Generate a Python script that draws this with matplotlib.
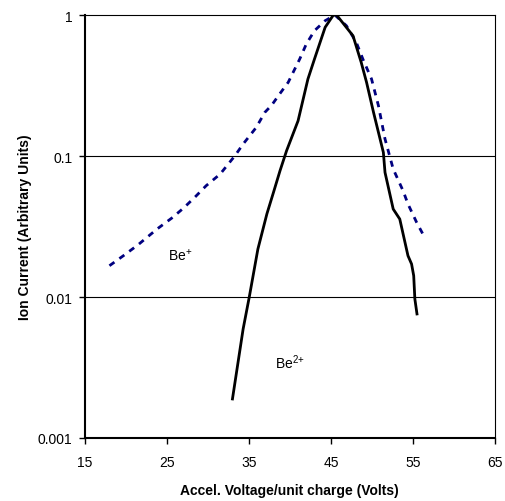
import numpy as np
import matplotlib
matplotlib.use("Agg")
import matplotlib.pyplot as plt
from matplotlib.ticker import FixedLocator, NullLocator

plt.rcParams.update({
    "font.family": ["Liberation Sans", "DejaVu Sans"],
    "font.size": 10,
    "mathtext.fontset": "custom",
    "mathtext.rm": "Liberation Sans",
})

# --- data ---
be1_x = [18.0, 19.7, 21.5, 23.8, 25.6, 27.0, 28.4, 29.8, 31.5, 33.3, 34.3, 35.9, 36.95,
         37.8, 38.6, 39.8, 41.2, 42.0, 43.0, 44.3, 45.5, 46.9, 48.1, 48.9, 49.96, 50.8,
         51.6, 52.6, 53.8, 54.4, 55.45, 56.5]
be1_log = [-1.778, -1.707, -1.629, -1.518, -1.44, -1.371, -1.293, -1.21, -1.128, -0.998,
           -0.915, -0.797, -0.69, -0.638, -0.572, -0.477, -0.312, -0.206, -0.111, -0.04,
           0.0, -0.076, -0.194, -0.312, -0.454, -0.643, -0.879, -1.092, -1.246, -1.34,
           -1.47, -1.584]

be2_x = [33.0, 34.3, 35.05, 36.1, 37.2, 38.0, 38.8, 39.6, 41.0, 42.2, 43.0, 44.3, 45.3,
         45.7, 47.7, 48.7, 49.35, 50.2, 51.4, 51.6, 52.6, 53.4, 54.4, 54.84, 55.1, 55.24,
         55.5]
be2_log = [-2.723, -2.227, -2.0, -1.66, -1.41, -1.258, -1.104, -0.962, -0.75, -0.454,
           -0.312, -0.087, 0.0, 0.0, -0.147, -0.336, -0.477, -0.69, -0.974, -1.116,
           -1.376, -1.447, -1.707, -1.766, -1.849, -2.014, -2.12]

be1_y = 10.0 ** np.array(be1_log)
be2_y = 10.0 ** np.array(be2_log)

x_ticks = [15, 25, 35, 45, 55, 65]
y_ticks = [0.001, 0.01, 0.1, 1]
y_labels = ["0.001", "0.01", "0.1", "1"]

fig = plt.figure(figsize=(5.05, 5.02), dpi=100)
ax = fig.add_axes([0.168, 0.1255, 0.812, 0.8425])

ax.set_yscale("log")
ax.plot(be1_x, be1_y, color="#000080", lw=2.0, linestyle=(0, (2.2, 2.2)))
ax.plot(be2_x, be2_y, color="black", lw=2.0)

ax.set_xlim(15, 65)
ax.set_ylim(0.001, 1)
ax.set_xticks(x_ticks)
ax.yaxis.set_major_locator(FixedLocator(y_ticks))
ax.yaxis.set_minor_locator(NullLocator())
ax.set_yticklabels(y_labels)

for y in [0.01, 0.1]:
    ax.axhline(y, color="black", lw=0.8, zorder=0)

for s in ["left", "bottom"]:
    ax.spines[s].set_linewidth(1.5)
for s in ["right", "top"]:
    ax.spines[s].set_linewidth(0.8)
ax.tick_params(direction="out", length=4, width=1, labelsize=10)
ax.tick_params(axis="x", pad=8)
ax.tick_params(axis="y", pad=5)

ax.text(25.2, 0.020, "Be$^{\\mathregular{{+}}}$", fontsize=10, va="center")
ax.text(38.2, 0.0035, "Be$^{\\mathregular{2{+}}}$", fontsize=10, va="center")

ax.set_xlabel("Accel. Voltage/unit charge (Volts)", fontweight="bold", fontsize=10, labelpad=10)
ax.set_ylabel("Ion Current (Arbitrary Units)", fontweight="bold", fontsize=10, labelpad=4)

fig.savefig("out.png", dpi=100)
